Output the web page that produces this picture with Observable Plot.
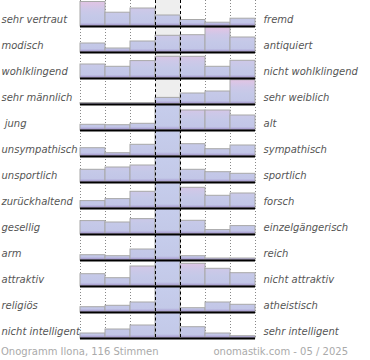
<!DOCTYPE html>
<html>
<head>
<meta charset="utf-8">
<script src="https://cdn.jsdelivr.net/npm/d3@7"></script>
<script src="https://cdn.jsdelivr.net/npm/@observablehq/plot@0.6"></script>
<style>
  body { margin: 0; background: #fff; }
  #chart svg { display: block; }
  #footer { width: 347px; padding-left: 1px; padding-top: 6px; display: flex; justify-content: space-between;
            font-family: "DejaVu Sans", sans-serif; font-size: 10px; line-height: 12px; color: #aaa; }
</style>
</head>
<body>
<div id="chart"></div>
<div id="footer"><span id="fl"></span><span id="fr"></span></div>
<script>
const leftLabels = ["sehr vertraut","modisch","wohlklingend","sehr männlich"," jung","unsympathisch","unsportlich","zurückhaltend","gesellig","arm","attraktiv","religiös","nicht intelligent"];
const rightLabels = ["fremd","antiquiert","nicht wohlklingend","sehr weiblich","alt","sympathisch","sportlich","forsch","einzelgängerisch","reich","nicht attraktiv","atheistisch","sehr intelligent"];
const columns = [1, 2, 3, 4, 5, 6, 7];
const centerColumn = 4;
const yMax = 26;
// bar heights per row, 7 answer columns (yMax = full row height; center column is capped)
const rowValues = [
  [24.5, 13.8, 18, 11, 6.5, 3.8, 7.8],
  [9, 4, 11, 16.7, 17.3, 25, 15],
  [14, 11.7, 17.4, 21.7, 21.7, 11.7, 17.7],
  [1.5, 1.5, 1.5, 6.6, 11, 13, 24.3],
  [5.7, 5.3, 6.7, 26, 20, 20, 15],
  [8.3, 3.3, 11.7, 26, 12.3, 7.3, 11],
  [12.7, 15, 17, 26, 12.7, 10.3, 8.7],
  [7.4, 9.4, 16.7, 26, 20.7, 12.7, 15],
  [13.4, 12, 15.4, 26, 13.7, 4.4, 8.4],
  [5.3, 4.3, 11, 26, 4.3, 2, 2],
  [12.3, 8.3, 20, 26, 22.7, 17.7, 13.3],
  [5.3, 6.7, 10, 26, 4.3, 10, 7.7],
  [5, 9, 13, 26, 11.3, 5, 2.3]
];
const footerLeft = "Onogramm Ilona, 116 Stimmen";
const footerRight = "onomastik.com - 05 / 2025";

const bars = leftLabels.flatMap((row, i) => columns.map((c, j) => ({row, col: c, v: rowValues[i][j]})));
const boundaries = d3.range(0, columns.length + 1);
const dotted = boundaries.filter(b => b !== centerColumn - 1 && b !== centerColumn);
const dashed = [centerColumn - 1, centerColumn];

const plot = Plot.plot({
  width: 370, height: 340,
  marginLeft: 80, marginRight: 115, marginTop: 0, marginBottom: 2,
  style: {fontFamily: "DejaVu Sans", fontSize: "10px", background: "white", overflow: "visible"},
  x: {domain: [0, columns.length], axis: null},
  y: {domain: [0, yMax], axis: null, clamp: true},
  fy: {domain: leftLabels, padding: 0, axis: null},
  color: {type: "identity"},
  marks: [
    Plot.rect(leftLabels, {fy: d => d, x1: centerColumn - 1, x2: centerColumn, y1: 0, y2: yMax, fill: "#eeeeee"}),
    Plot.ruleX(dotted, {x: d => d, stroke: "#888", strokeWidth: 1, strokeDasharray: "1,2"}),
    Plot.rect(bars, {fy: "row", x1: d => d.col - 1, x2: d => d.col, y1: 0, y2: "v",
      fill: d => d.v >= yMax ? "url(#onoGradFull)" : "url(#onoGrad)", stroke: "#a8a8a8", strokeWidth: 1}),
    Plot.ruleX(dashed, {x: d => d, stroke: "#000", strokeWidth: 1, strokeDasharray: "3,2.5"}),
    Plot.ruleY([0], {stroke: "#000", strokeWidth: 2}),
    Plot.text(leftLabels, {fy: d => d, text: d => d, frameAnchor: "bottom-left", textAnchor: "start",
      dx: -79, dy: -4, fontStyle: "italic", fill: "#555", fontSize: 10}),
    Plot.text(leftLabels, {fy: d => d, text: (d, i) => rightLabels[i], frameAnchor: "bottom-right", textAnchor: "start",
      dx: 8, dy: -4, fontStyle: "italic", fill: "#555", fontSize: 10})
  ]
});

// gradients in facet-local user space, positioned from the y scale
const ys = plot.scale("y");
const yTop = ys.apply(yMax), yBot = ys.apply(0);
const svgns = "http://www.w3.org/2000/svg";
const defs = document.createElementNS(svgns, "defs");
function addGradient(id, stops) {
  const grad = document.createElementNS(svgns, "linearGradient");
  grad.setAttribute("id", id);
  grad.setAttribute("gradientUnits", "userSpaceOnUse");
  grad.setAttribute("x1", 0); grad.setAttribute("x2", 0);
  grad.setAttribute("y1", yTop); grad.setAttribute("y2", yBot);
  stops.forEach(([o, c]) => {
    const s = document.createElementNS(svgns, "stop");
    s.setAttribute("offset", o); s.setAttribute("stop-color", c);
    grad.appendChild(s);
  });
  defs.appendChild(grad);
}
addGradient("onoGrad", [[0, "#e3c4e3"], [0.15, "#dcc5e5"], [0.35, "#cdc8e8"], [0.6, "#c5c9e8"], [0.88, "#c2c6e7"], [0.93, "#b2acd9"], [1, "#9886c0"]]);
addGradient("onoGradFull", [[0, "#c6cdec"], [0.85, "#c3c9e8"], [0.93, "#b2acd9"], [1, "#9886c0"]]);
plot.insertBefore(defs, plot.firstChild);

document.getElementById("chart").appendChild(plot);
document.getElementById("fl").textContent = footerLeft;
document.getElementById("fr").textContent = footerRight;
</script>
</body>
</html>
